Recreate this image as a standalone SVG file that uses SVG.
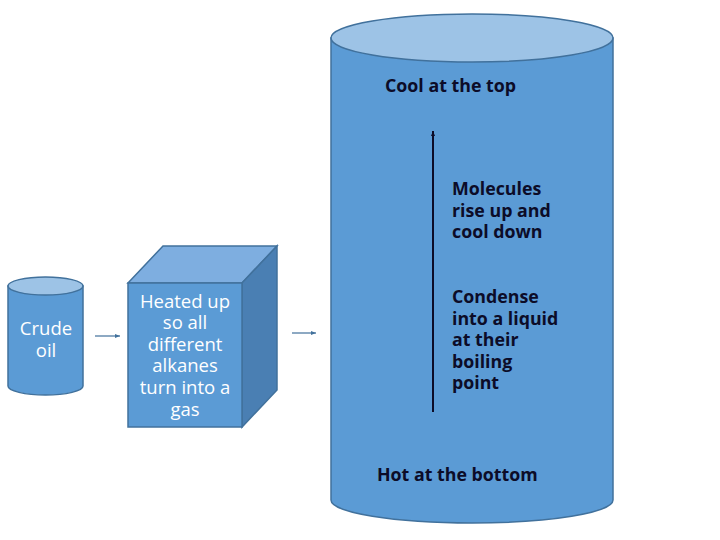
<svg xmlns="http://www.w3.org/2000/svg" width="720" height="540" viewBox="0 0 720 540">
<style>
.body{fill:#5b9bd5;stroke:#41719c;stroke-width:1.5}
.top{fill:#9dc3e6;stroke:#41719c;stroke-width:1.5}
.wt{font-family:"Open Sans","Noto Sans",sans-serif;font-size:18.5px;fill:#ffffff;text-anchor:middle}
.dk{font-family:"Open Sans","Noto Sans",sans-serif;font-size:17.8px;font-weight:700;fill:#0c0c28}
.conn{stroke:#41719c;stroke-width:1.2;fill:none}
</style>
<defs>
<marker id="ah" markerWidth="6" markerHeight="6" refX="5" refY="3" orient="auto" markerUnits="userSpaceOnUse">
<path d="M0,1 L5,3 L0,5 Z" fill="#41719c"/>
</marker>
<marker id="ahd" markerWidth="6" markerHeight="6" refX="5" refY="3" orient="auto" markerUnits="userSpaceOnUse">
<path d="M0,1 L5,3 L0,5 Z" fill="#0c0c28"/>
</marker>
</defs>
<rect width="720" height="540" fill="#ffffff"/>
<g id="column">
<path class="body" d="M331,38 L331,500 A141,23 0 0 0 613,500 L613,38 Z"/>
<ellipse class="top" cx="472" cy="38" rx="141" ry="24"/>
<text class="dk" x="385" y="92">Cool at the top</text>
<text class="dk" x="452" y="195">Molecules</text>
<text class="dk" x="452" y="217">rise up and</text>
<text class="dk" x="452" y="238">cool down</text>
<text class="dk" x="452" y="303">Condense</text>
<text class="dk" x="452" y="325">into a liquid</text>
<text class="dk" x="452" y="346">at their</text>
<text class="dk" x="452" y="368">boiling</text>
<text class="dk" x="452" y="389">point</text>
<text class="dk" x="377" y="481">Hot at the bottom</text>
</g>
<g id="crude-oil">
<path class="body" d="M8,286 L8,386 A37.5,9 0 0 0 83,386 L83,286 Z"/>
<ellipse class="top" cx="45.5" cy="286" rx="37.5" ry="9"/>
<text class="wt" x="46" y="335">Crude</text>
<text class="wt" x="46" y="357">oil</text>
</g>
<g id="heater">
<path d="M128,283 L163,246 L277,246 L242,283 Z" fill="#7eaee0" stroke="#41719c" stroke-width="1.5"/>
<path d="M242,283 L277,246 L277,390 L242,427 Z" fill="#4a7fb3" stroke="#41719c" stroke-width="1.5"/>
<rect class="body" x="128" y="283" width="114" height="144"/>
<text class="wt" x="185" y="308">Heated up</text>
<text class="wt" x="185" y="329">so all</text>
<text class="wt" x="185" y="351">different</text>
<text class="wt" x="185" y="372">alkanes</text>
<text class="wt" x="185" y="394">turn into a</text>
<text class="wt" x="185" y="416">gas</text>
</g>
<g id="connectors">
<line class="conn" x1="95" y1="336" x2="120" y2="336" marker-end="url(#ah)"/>
<line class="conn" x1="292" y1="333" x2="316" y2="333" marker-end="url(#ah)"/>
<line x1="433" y1="412" x2="433" y2="131" stroke="#0c0c28" stroke-width="2" marker-end="url(#ahd)"/>
</g>
</svg>
